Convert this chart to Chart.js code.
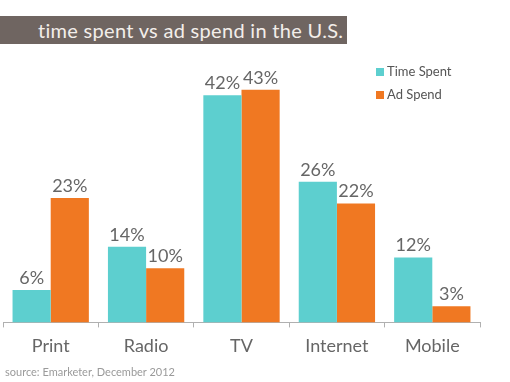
<!DOCTYPE html>
<html><head><meta charset="utf-8">
<script src="https://cdn.jsdelivr.net/npm/chart.js@4"></script>
<style>
html,body{margin:0;padding:0;background:#fff;width:510px;height:382px;overflow:hidden;font-family:Lato,"Open Sans",sans-serif;}
#wrap{position:absolute;left:0;top:0;width:510px;height:382px;}
#banner{position:absolute;left:0;top:16px;width:347px;height:28px;background:#6f6561;}
#title{position:absolute;left:38px;top:16px;height:28px;line-height:28px;color:#f3eeea;font-size:20px;letter-spacing:0.3px;font-variant-ligatures:none;font-family:Lato,sans-serif;white-space:nowrap;}
#source{position:absolute;left:5px;top:365px;color:#9a9a9a;font-size:11px;font-family:Lato,sans-serif;}
</style></head>
<body>
<div id="wrap"><canvas id="c" width="510" height="382"></canvas></div>
<div id="banner"></div>
<div id="title">time spent vs ad spend in the U.S.</div>
<div id="source">source: Emarketer, December 2012</div>
<script>
const categories = ["Print","Radio","TV","Internet","Mobile"];
const timeSpent = [6,14,42,26,12];
const adSpend = [23,10,43,22,3];
const seriesNames = ["Time Spent","Ad Spend"];
const colors = ["#5dcfcf","#f07822"];

const valueLabels = {
  id:'valueLabels',
  afterDatasetsDraw(chart){
    const ctx = chart.ctx;
    ctx.save();
    ctx.font = '18px Lato, sans-serif';
    ctx.fillStyle = '#666';
    ctx.textAlign = 'center';
    ctx.textBaseline = 'bottom';
    chart.data.datasets.forEach((ds,i)=>{
      chart.getDatasetMeta(i).data.forEach((bar,j)=>{
        ctx.fillText(ds.data[j]+'%', bar.x, bar.y - 3);
      });
    });
    ctx.restore();
  }
};
const customLegend = {
  id:'customLegend',
  afterDraw(chart){
    const ctx = chart.ctx;
    ctx.save();
    ctx.font = '13px Lato, sans-serif';
    ctx.textBaseline = 'middle';
    chart.data.datasets.forEach((ds,i)=>{
      const y = 72 + i*23;
      ctx.fillStyle = ds.backgroundColor;
      ctx.fillRect(376, y-4, 8, 8);
      ctx.fillStyle = '#555';
      ctx.fillText(ds.label, 387, y);
    });
    ctx.restore();
  }
};

new Chart(document.getElementById('c'), {
  type:'bar',
  data:{
    labels: categories,
    datasets:[
      {label:seriesNames[0], data:timeSpent, backgroundColor:colors[0]},
      {label:seriesNames[1], data:adSpend, backgroundColor:colors[1]}
    ]
  },
  options:{
    responsive:false,
    animation:false,
    devicePixelRatio:1,
    layout:{padding:{left:3,right:30,top:52,bottom:17}},
    datasets:{bar:{categoryPercentage:0.8,barPercentage:1.0}},
    plugins:{legend:{display:false},tooltip:{enabled:false},title:{display:false}},
    scales:{
      y:{display:false,min:0,max:50},
      x:{
        border:{display:true,color:'#b0b0b0',width:1},
        grid:{display:true,drawOnChartArea:false,drawTicks:true,tickLength:5,color:'#b0b0b0',offset:true},
        ticks:{color:'#666',font:{family:'Lato, sans-serif',size:18},padding:8}
      }
    }
  },
  plugins:[valueLabels,customLegend]
});
</script>
</body></html>
